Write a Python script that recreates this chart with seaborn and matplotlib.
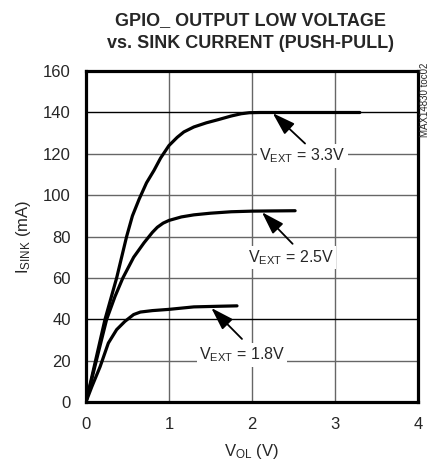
import matplotlib
matplotlib.use("Agg")
import matplotlib.pyplot as plt
import seaborn as sns
import pandas as pd

# ---- data ----
v33_x = [0, 0.07, 0.15, 0.23, 0.3, 0.37, 0.49, 0.56, 0.64, 0.73, 0.82, 0.9, 1.0, 1.1, 1.18, 1.3, 1.45, 1.59, 1.75, 1.87, 1.97, 2.1, 3.3]
v33_y = [0, 12, 26, 40, 50, 60, 80, 90, 98, 106, 112, 118, 124, 128, 130.6, 133, 135, 136.5, 138.3, 139.4, 139.9, 140, 140]
v25_x = [0, 0.07, 0.15, 0.25, 0.35, 0.445, 0.575, 0.7, 0.8, 0.86, 0.93, 1.0, 1.15, 1.3, 1.5, 1.75, 2.0, 2.25, 2.52]
v25_y = [0, 11, 24, 40, 51, 60, 70, 77, 82, 84.5, 86.5, 87.8, 89.5, 90.5, 91.3, 92, 92.3, 92.4, 92.5]
v18_x = [0, 0.07, 0.17, 0.27, 0.37, 0.47, 0.575, 0.656, 0.8, 1.0, 1.3, 1.6, 1.82]
v18_y = [0, 7.3, 17, 28.5, 35, 39, 42.3, 43.5, 44.2, 44.8, 46, 46.3, 46.5]
series_names = ["3.3V", "2.5V", "1.8V"]
x_ticks = [0, 1, 2, 3, 4]
y_ticks = [0, 20, 40, 60, 80, 100, 120, 140, 160]

sns.set_theme(style="white")
plt.rcParams['font.family'] = ['Liberation Sans', 'DejaVu Sans']
plt.rcParams['mathtext.fontset'] = 'custom'
plt.rcParams['mathtext.rm'] = 'Liberation Sans'
plt.rcParams['mathtext.it'] = 'Liberation Sans'
plt.rcParams['mathtext.default'] = 'rm'

frames = []
for name, xs, ys in zip(series_names, [v33_x, v25_x, v18_x], [v33_y, v25_y, v18_y]):
    frames.append(pd.DataFrame({"vol": xs, "isink": ys, "vext": name}))
df = pd.concat(frames, ignore_index=True)

fig = plt.figure(figsize=(4.34, 4.68), dpi=100)
ax = fig.add_axes([0.198, 0.141, 0.765, 0.707])

sns.lineplot(data=df, x="vol", y="isink", units="vext", estimator=None,
             color="black", lw=2.3, ax=ax, sort=False, zorder=5)

ax.set_xlim(0, 4)
ax.set_ylim(0, 160)
ax.set_xticks(x_ticks)
ax.set_yticks(y_ticks)
ax.set_xticklabels([str(t) for t in x_ticks], fontsize=12)
ax.set_yticklabels([str(t) for t in y_ticks], fontsize=12)
ax.tick_params(axis="x", length=0, pad=11)
ax.tick_params(axis="y", length=0, pad=11)
ax.grid(True, lw=1.0, color="#666666", zorder=1)
for val, gl in zip(y_ticks, ax.get_ygridlines()):
    if val in (40, 140):
        gl.set_color("black")
for sp in ax.spines.values():
    sp.set_linewidth(2.3)
    sp.set_color("black")
    sp.set_zorder(6)

ax.set_xlabel(r"V$_{\rm OL}$ (V)", fontsize=12, labelpad=7)
ax.set_ylabel(r"I$_{\rm SINK}$ (mA)", fontsize=12, labelpad=7)

fig.text(0.577, 0.975, "GPIO_ OUTPUT LOW VOLTAGE\nvs. SINK CURRENT (PUSH-PULL)",
         ha="center", va="top", fontsize=13, fontweight="bold", linespacing=1.45)
fig.text(0.979, 0.786, "MAX14830 toc02", rotation=90, ha="center", va="center", fontsize=7)

labels = [(2.61, 119, 2.64, 125, 2.25, 139.7),
          (2.47, 70, 2.49, 76.5, 2.12, 91.8),
          (1.88, 22.7, 1.88, 30.5, 1.51, 45.5)]
for name, (lx, ly, tx, ty, hx, hy) in zip(series_names, labels):
    ax.text(lx, ly, r"V$_{\rm EXT}$ = " + name, ha="center", va="center", fontsize=11.5,
            zorder=4, bbox=dict(boxstyle="square,pad=0.15", fc="white", ec="none"))
    ax.annotate("", xy=(hx, hy), xytext=(tx, ty), zorder=7,
                arrowprops=dict(arrowstyle="-|>,head_length=1.0,head_width=0.32",
                                mutation_scale=14, color="black", lw=1.3,
                                shrinkA=0, shrinkB=0))

fig.savefig("out.png", dpi=100)
